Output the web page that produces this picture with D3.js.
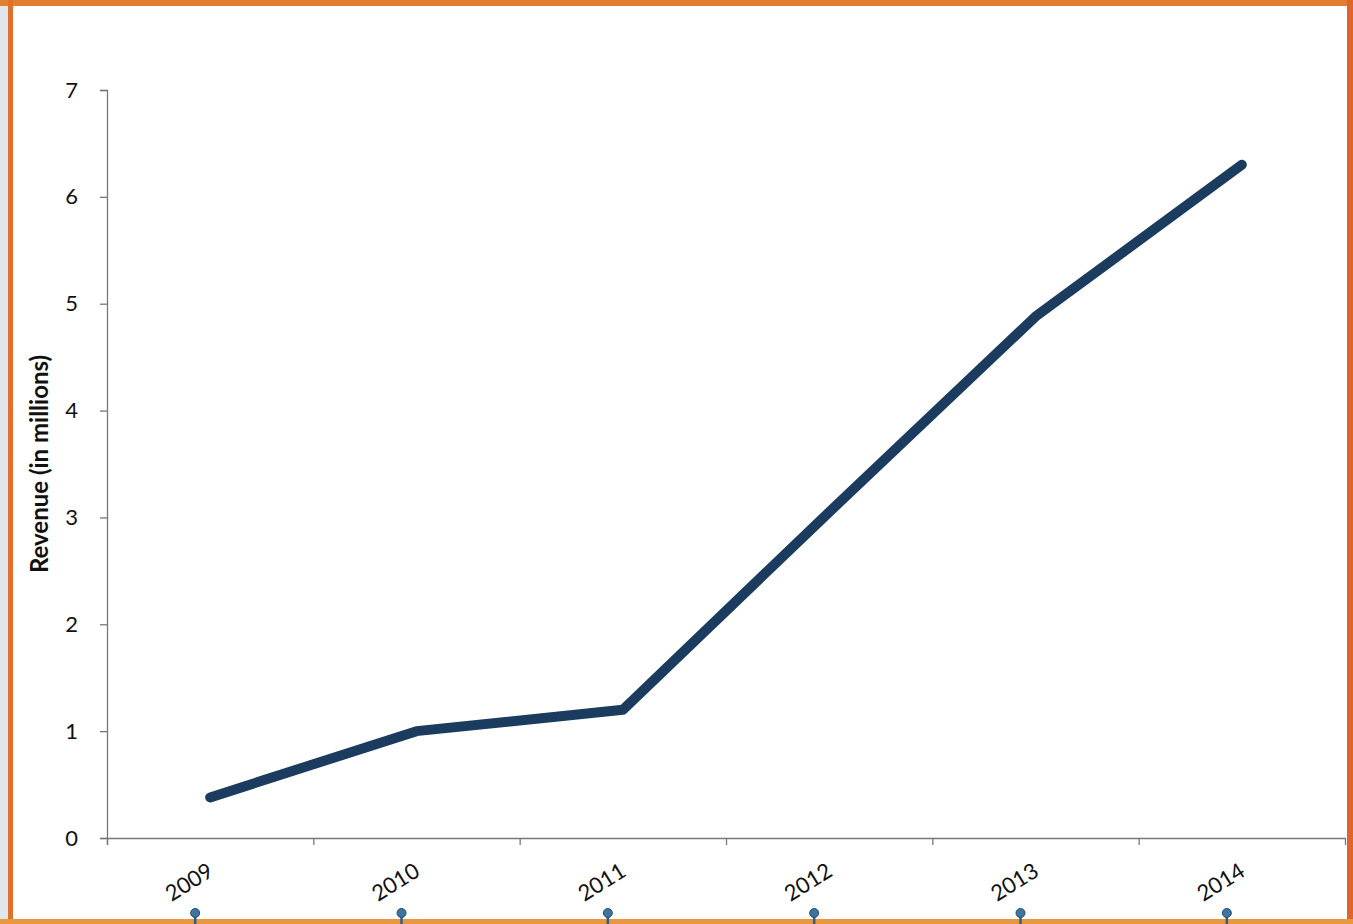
<!DOCTYPE html>
<html>
<head>
<meta charset="utf-8">
<script src="https://cdn.jsdelivr.net/npm/d3@7"></script>
<style>
  body { margin: 0; background: #fff; }
  text { font-family: Lato, "Open Sans", sans-serif; fill: #111; }
</style>
</head>
<body>
<div id="chart"></div>
<script>
var years = ["2009", "2010", "2011", "2012", "2013", "2014"];
var revenue = [0.38, 1.0, 1.2, 3.05, 4.88, 6.3];
var yTicks = [0, 1, 2, 3, 4, 5, 6, 7];

var W = 1353, H = 924;
var margin = {top: 90, right: 8, bottom: 86, left: 107};

var svg = d3.select("#chart").append("svg")
    .attr("width", W)
    .attr("height", H);

// frame of the scanned page
svg.append("rect").attr("x", 0).attr("y", 0).attr("width", 8).attr("height", H).attr("fill", "#dfe6ee");
svg.append("rect").attr("x", 0).attr("y", 0).attr("width", W).attr("height", 6).attr("fill", "#e0802e");
svg.append("rect").attr("x", 8).attr("y", 0).attr("width", 5).attr("height", H).attr("fill", "#e0712c");
svg.append("rect").attr("x", W - 6).attr("y", 0).attr("width", 6).attr("height", H).attr("fill", "#e0652a");
svg.append("rect").attr("x", 0).attr("y", H - 5).attr("width", W).attr("height", 5).attr("fill", "#e8963f");

var x = d3.scaleBand()
    .domain(years)
    .range([margin.left, W - margin.right])
    .padding(0);

var y = d3.scaleLinear()
    .domain([0, 7])
    .range([H - margin.bottom, margin.top]);

// y axis
var yAxis = svg.append("g")
    .attr("transform", "translate(" + margin.left + ",0)")
    .call(d3.axisLeft(y).tickValues(yTicks).tickSize(7).tickPadding(22).tickFormat(d3.format("d")));
yAxis.select(".domain").attr("stroke", "#777").attr("stroke-width", 1.3);
yAxis.selectAll(".tick line").attr("stroke", "#777").attr("stroke-width", 1.3);
yAxis.selectAll(".tick text")
    .style("font-size", "22px")
    .style("font-family", "Lato, 'Open Sans', sans-serif")
    .attr("fill", "#111");

// x axis with ticks at category boundaries
var bounds = d3.scaleLinear().domain([0, years.length]).range(x.range());
var xAxis = svg.append("g")
    .attr("transform", "translate(0," + y(0) + ")")
    .call(d3.axisBottom(bounds).tickValues(d3.range(years.length)).tickSize(7).tickFormat(""));
xAxis.select(".domain").attr("stroke", "#777").attr("stroke-width", 1.3);
xAxis.selectAll(".tick line").attr("stroke", "#777").attr("stroke-width", 1.3);

// rotated year labels
svg.selectAll(".year")
    .data(years)
    .enter().append("text")
    .attr("class", "year")
    .attr("text-anchor", "middle")
    .attr("dy", "0.35em")
    .attr("transform", function(d) {
        return "translate(" + (x(d) + x.bandwidth() / 2 - 21) + "," + (y(0) + 44) + ") rotate(-32)";
    })
    .style("font-size", "22px")
    .text(function(d) { return d; });

// little pins under the labels
var pins = svg.selectAll(".pin")
    .data(years)
    .enter().append("g")
    .attr("class", "pin")
    .attr("transform", function(d) {
        return "translate(" + (x(d) + x.bandwidth() / 2 - 15) + "," + (y(0) + 75) + ")";
    });
pins.append("line").attr("x1", 0).attr("x2", 0).attr("y1", 0).attr("y2", 14)
    .attr("stroke", "#2f5f86").attr("stroke-width", 2.5);
pins.append("circle").attr("r", 4.5).attr("fill", "#3f74a0").attr("stroke", "#244d70").attr("stroke-width", 1);

// revenue line
var line = d3.line()
    .x(function(d, i) { return x(years[i]) + x.bandwidth() / 2; })
    .y(function(d) { return y(d); });

svg.append("path")
    .datum(revenue)
    .attr("fill", "none")
    .attr("stroke", "#1b3c5f")
    .attr("stroke-width", 10)
    .attr("stroke-linecap", "round")
    .attr("stroke-linejoin", "round")
    .attr("d", line);

// y axis title
svg.append("text")
    .attr("transform", "translate(40," + ((y(0) + y(7)) / 2) + ") rotate(-90)")
    .attr("text-anchor", "middle")
    .attr("dy", "0.35em")
    .style("font-size", "24px")
    .style("font-weight", "bold")
    .text("Revenue (in millions)");
</script>
</body>
</html>
